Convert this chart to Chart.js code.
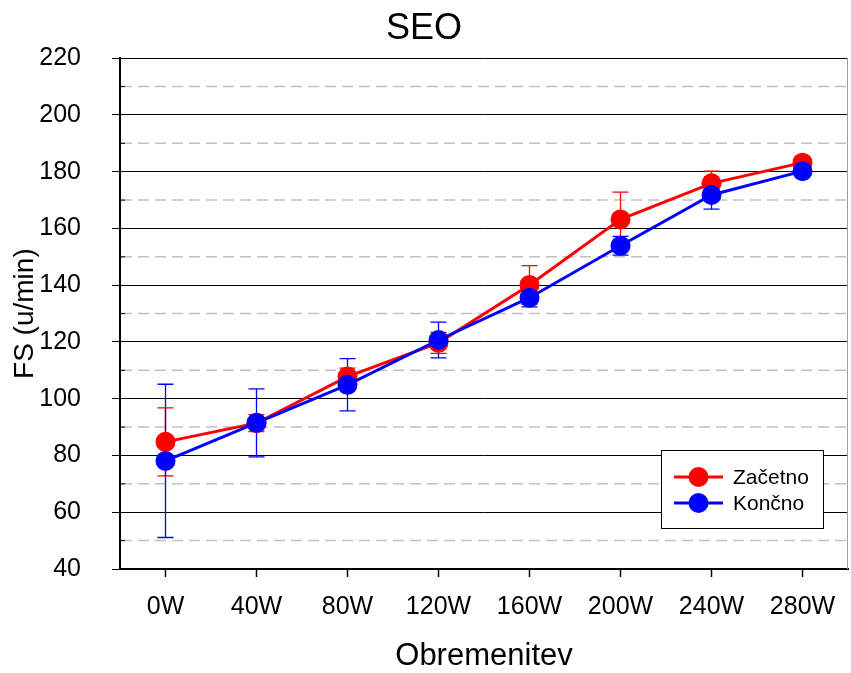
<!DOCTYPE html>
<html>
<head>
<meta charset="utf-8">
<script src="https://cdn.jsdelivr.net/npm/chart.js@4/dist/chart.umd.min.js"></script>
<style>
  html, body { margin: 0; padding: 0; background: #fff; }
  #wrap { width: 851px; height: 673px; }
</style>
</head>
<body>
<div id="wrap"><canvas id="myChart"></canvas></div>
<script>
// values
const labels = ['0W', '40W', '80W', '120W', '160W', '200W', '240W', '280W'];
const zacetno = [84.8, 91.4, 107.8, 119.7, 140.1, 163.2, 175.9, 183.2];
const zacetnoErr = [12, 3, 3, 3.7, 6.8, 9.6, 4.3, 2];
const koncno = [78.1, 91.5, 104.9, 120.7, 135.6, 153.9, 171.8, 180.2];
const koncnoErr = [27, 12, 9.2, 6.3, 3.2, 3.3, 5, 1];

const FONT = '"Liberation Sans", Arial, sans-serif';

// error bars, dashed minor grid and the boxed legend inside the plot
const extras = {
    id: 'extras',
    beforeDatasetsDraw(chart) {
        const ctx = chart.ctx;
        const area = chart.chartArea;
        const y = chart.scales.y;
        ctx.save();
        // minor gridlines + small inner ticks halfway between major ticks
        const ticks = y.ticks;
        for (let i = 0; i < ticks.length - 1; i++) {
            const py = y.getPixelForValue((ticks[i].value + ticks[i + 1].value) / 2);
            ctx.strokeStyle = '#c0c0c0';
            ctx.lineWidth = 1.5;
            ctx.setLineDash([11, 6]);
            ctx.beginPath();
            ctx.moveTo(area.left + 1, py);
            ctx.lineTo(area.right, py);
            ctx.stroke();
            ctx.setLineDash([]);
            ctx.strokeStyle = '#000';
            ctx.lineWidth = 1;
            ctx.beginPath();
            ctx.moveTo(area.left, py);
            ctx.lineTo(area.left + 5, py);
            ctx.stroke();
        }
        // right border of the plot
        ctx.strokeStyle = '#a0a0a0';
        ctx.lineWidth = 1;
        ctx.beginPath();
        ctx.moveTo(area.right - 0.5, area.top);
        ctx.lineTo(area.right - 0.5, area.bottom);
        ctx.stroke();

        chart.data.datasets.forEach((ds, di) => {
            const meta = chart.getDatasetMeta(di);
            ctx.strokeStyle = ds.borderColor;
            ctx.lineWidth = 1.3;
            meta.data.forEach((pt, i) => {
                const v = ds.data[i], e = ds.err[i];
                const yTop = y.getPixelForValue(v + e);
                const yBot = y.getPixelForValue(v - e);
                ctx.beginPath();
                ctx.moveTo(pt.x, yTop);
                ctx.lineTo(pt.x, yBot);
                ctx.moveTo(pt.x - 8, yTop);
                ctx.lineTo(pt.x + 8, yTop);
                ctx.moveTo(pt.x - 8, yBot);
                ctx.lineTo(pt.x + 8, yBot);
                ctx.stroke();
            });
        });
        ctx.restore();
    },
    afterDraw(chart) {
        const ctx = chart.ctx;
        const area = chart.chartArea;
        const w = 162, h = 78;
        const bx = area.right - 25 - w;
        const by = area.bottom - 41 - h;
        ctx.save();
        ctx.fillStyle = '#fff';
        ctx.fillRect(bx, by, w, h);
        ctx.strokeStyle = '#000';
        ctx.lineWidth = 1;
        ctx.strokeRect(bx + 0.5, by + 0.5, w, h);
        ctx.font = '21px ' + FONT;
        ctx.textBaseline = 'middle';
        ctx.textAlign = 'left';
        chart.data.datasets.forEach((ds, i) => {
            const cy = by + 27 + i * 26;
            ctx.strokeStyle = ds.borderColor;
            ctx.lineWidth = 3;
            ctx.beginPath();
            ctx.moveTo(bx + 13, cy);
            ctx.lineTo(bx + 62, cy);
            ctx.stroke();
            ctx.fillStyle = ds.backgroundColor;
            ctx.beginPath();
            ctx.arc(bx + 37.5, cy, 10, 0, Math.PI * 2);
            ctx.fill();
            ctx.fillStyle = '#000';
            ctx.fillText(ds.label, bx + 72, cy + 1);
        });
        ctx.restore();
    }
};

const ctx = document.getElementById('myChart').getContext('2d');
const myChart = new Chart(ctx, {
    type: 'line',
    data: {
        labels: labels,
        datasets: [{
            label: 'Začetno',
            data: zacetno,
            err: zacetnoErr,
            borderColor: '#ff0000',
            backgroundColor: '#ff0000',
            borderWidth: 3,
            pointRadius: 10,
            pointBorderWidth: 0,
            pointHoverRadius: 10,
            order: 2
        }, {
            label: 'Končno',
            data: koncno,
            err: koncnoErr,
            borderColor: '#0000ff',
            backgroundColor: '#0000ff',
            borderWidth: 3,
            pointRadius: 10,
            pointBorderWidth: 0,
            pointHoverRadius: 10,
            order: 1
        }]
    },
    options: {
        responsive: true,
        maintainAspectRatio: false,
        animation: false,
        layout: { autoPadding: false, padding: { left: 0, right: 3, top: 0, bottom: 0 } },
        plugins: {
            legend: { display: false },
            tooltip: { enabled: false },
            title: {
                display: true,
                text: 'SEO',
                color: '#000',
                font: { family: FONT, size: 36, weight: 'normal' },
                padding: { top: 7, bottom: 8 }
            }
        },
        scales: {
            x: {
                offset: true,
                grid: {
                    drawOnChartArea: false,
                    drawTicks: true,
                    tickLength: 8,
                    tickColor: '#000',
                    tickWidth: 1.5
                },
                border: { color: '#000', width: 2 },
                ticks: {
                    color: '#000',
                    font: { family: FONT, size: 25 },
                    padding: 15,
                    maxRotation: 0,
                    autoSkip: false
                },
                title: {
                    display: true,
                    text: 'Obremenitev',
                    color: '#000',
                    font: { family: FONT, size: 31 },
                    padding: { top: 0, bottom: -2 }
                },
                afterFit(scale) {
                    scale.height = 104;
                    scale.paddingLeft = 0;
                    scale.paddingRight = 0;
                }
            },
            y: {
                min: 40,
                max: 220,
                ticks: {
                    stepSize: 20,
                    color: '#000',
                    font: { family: FONT, size: 25 },
                    padding: 31
                },
                grid: {
                    color: '#000',
                    lineWidth: 1,
                    tickLength: 8,
                    tickColor: '#000'
                },
                border: { color: '#000', width: 2 },
                title: {
                    display: true,
                    text: 'FS (u/min)',
                    color: '#000',
                    font: { family: FONT, size: 28 },
                    padding: { top: 8, bottom: 0 }
                },
                afterFit(scale) { scale.width = 120; }
            }
        }
    },
    plugins: [extras]
});
</script>
</body>
</html>
